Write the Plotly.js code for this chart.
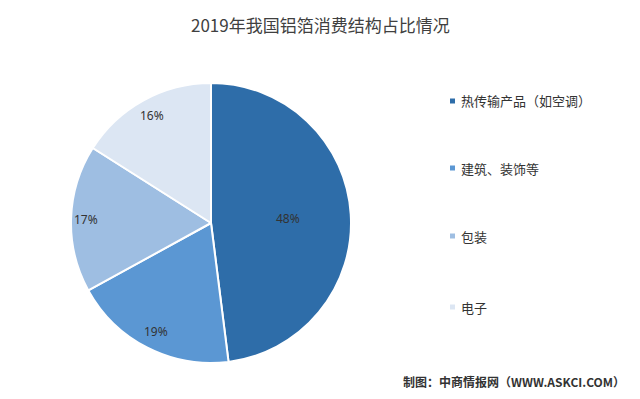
<!DOCTYPE html>
<html><head><meta charset="utf-8">
<script src="https://cdn.plot.ly/plotly-3.0.1.min.js"></script>
<style>html,body{margin:0;padding:0;background:#fff}#c{width:640px;height:399px}</style>
</head><body><div id="c"></div>
<script>
const categories = ["热传输产品（如空调）", "建筑、装饰等", "包装", "电子"];
const values = [48, 19, 17, 16];
const sliceColors = ["#2E6DA9", "#5B97D3", "#9EBEE2", "#DCE6F3"];
const legendY = [101, 168, 236, 307];

const H = 399, W = 640;
const cx = 211, cy = 223, r = 140;
// radial placement of each percentage label (fraction of radius), like Excel "best fit"
const labelRadius = [0.55, 0.87, 0.89, 0.88];

const data = [{
  type: "pie",
  labels: categories,
  values: values,
  sort: false,
  direction: "clockwise",
  rotation: 0,
  marker: {colors: sliceColors, line: {color: "#ffffff", width: 2}},
  textinfo: "none",
  showlegend: false,
  hoverinfo: "label+percent",
  domain: {x: [(cx - r) / W, (cx + r) / W], y: [(H - cy - r) / H, (H - cy + r) / H]}
}];

const annotations = [{
  text: "2019年我国铝箔消费结构占比情况",
  x: 0.5, y: 1 - 24 / H, xref: "paper", yref: "paper",
  xanchor: "center", yanchor: "middle", showarrow: false,
  font: {family: "Noto Sans CJK SC", size: 17, color: "#404040"}
}, {
  text: "<b>制图：中商情报网（WWW.ASKCI.COM）</b>",
  x: 627 / W, y: 1 - 381 / H, xref: "paper", yref: "paper",
  xanchor: "right", yanchor: "middle", showarrow: false,
  font: {family: "Noto Sans CJK SC", size: 12, color: "#333333"}
}];

// percentage labels positioned from the slice mid-angles
const total = values.reduce((a, b) => a + b, 0);
let cum = 0;
values.forEach((v, i) => {
  const mid = (cum + v / 2) / total * 2 * Math.PI;
  cum += v;
  const px = cx + Math.sin(mid) * r * labelRadius[i];
  const py = cy - Math.cos(mid) * r * labelRadius[i];
  annotations.push({
    text: Math.round(v / total * 100) + "%",
    x: px / W, y: 1 - py / H, xref: "paper", yref: "paper",
    xanchor: "center", yanchor: "middle", showarrow: false,
    font: {family: "Noto Sans, sans-serif", size: 12, color: "#333333"}
  });
});

const shapes = [];
categories.forEach((c, i) => {
  annotations.push({
    text: c, x: 459 / W, y: 1 - legendY[i] / H, xref: "paper", yref: "paper",
    xanchor: "left", yanchor: "middle", showarrow: false,
    font: {family: "Noto Sans CJK SC", size: 13, color: "#333333"}
  });
  shapes.push({
    type: "rect", xref: "paper", yref: "paper",
    x0: 450 / W, x1: 455 / W, y0: 1 - (legendY[i] + 2.5) / H, y1: 1 - (legendY[i] - 2.5) / H,
    fillcolor: sliceColors[i], line: {width: 0}
  });
});

const layout = {
  width: W, height: H,
  margin: {l: 0, r: 0, t: 0, b: 0},
  paper_bgcolor: "#ffffff",
  annotations: annotations,
  shapes: shapes
};
Plotly.newPlot("c", data, layout, {displayModeBar: false, staticPlot: true});
</script>
</body></html>
